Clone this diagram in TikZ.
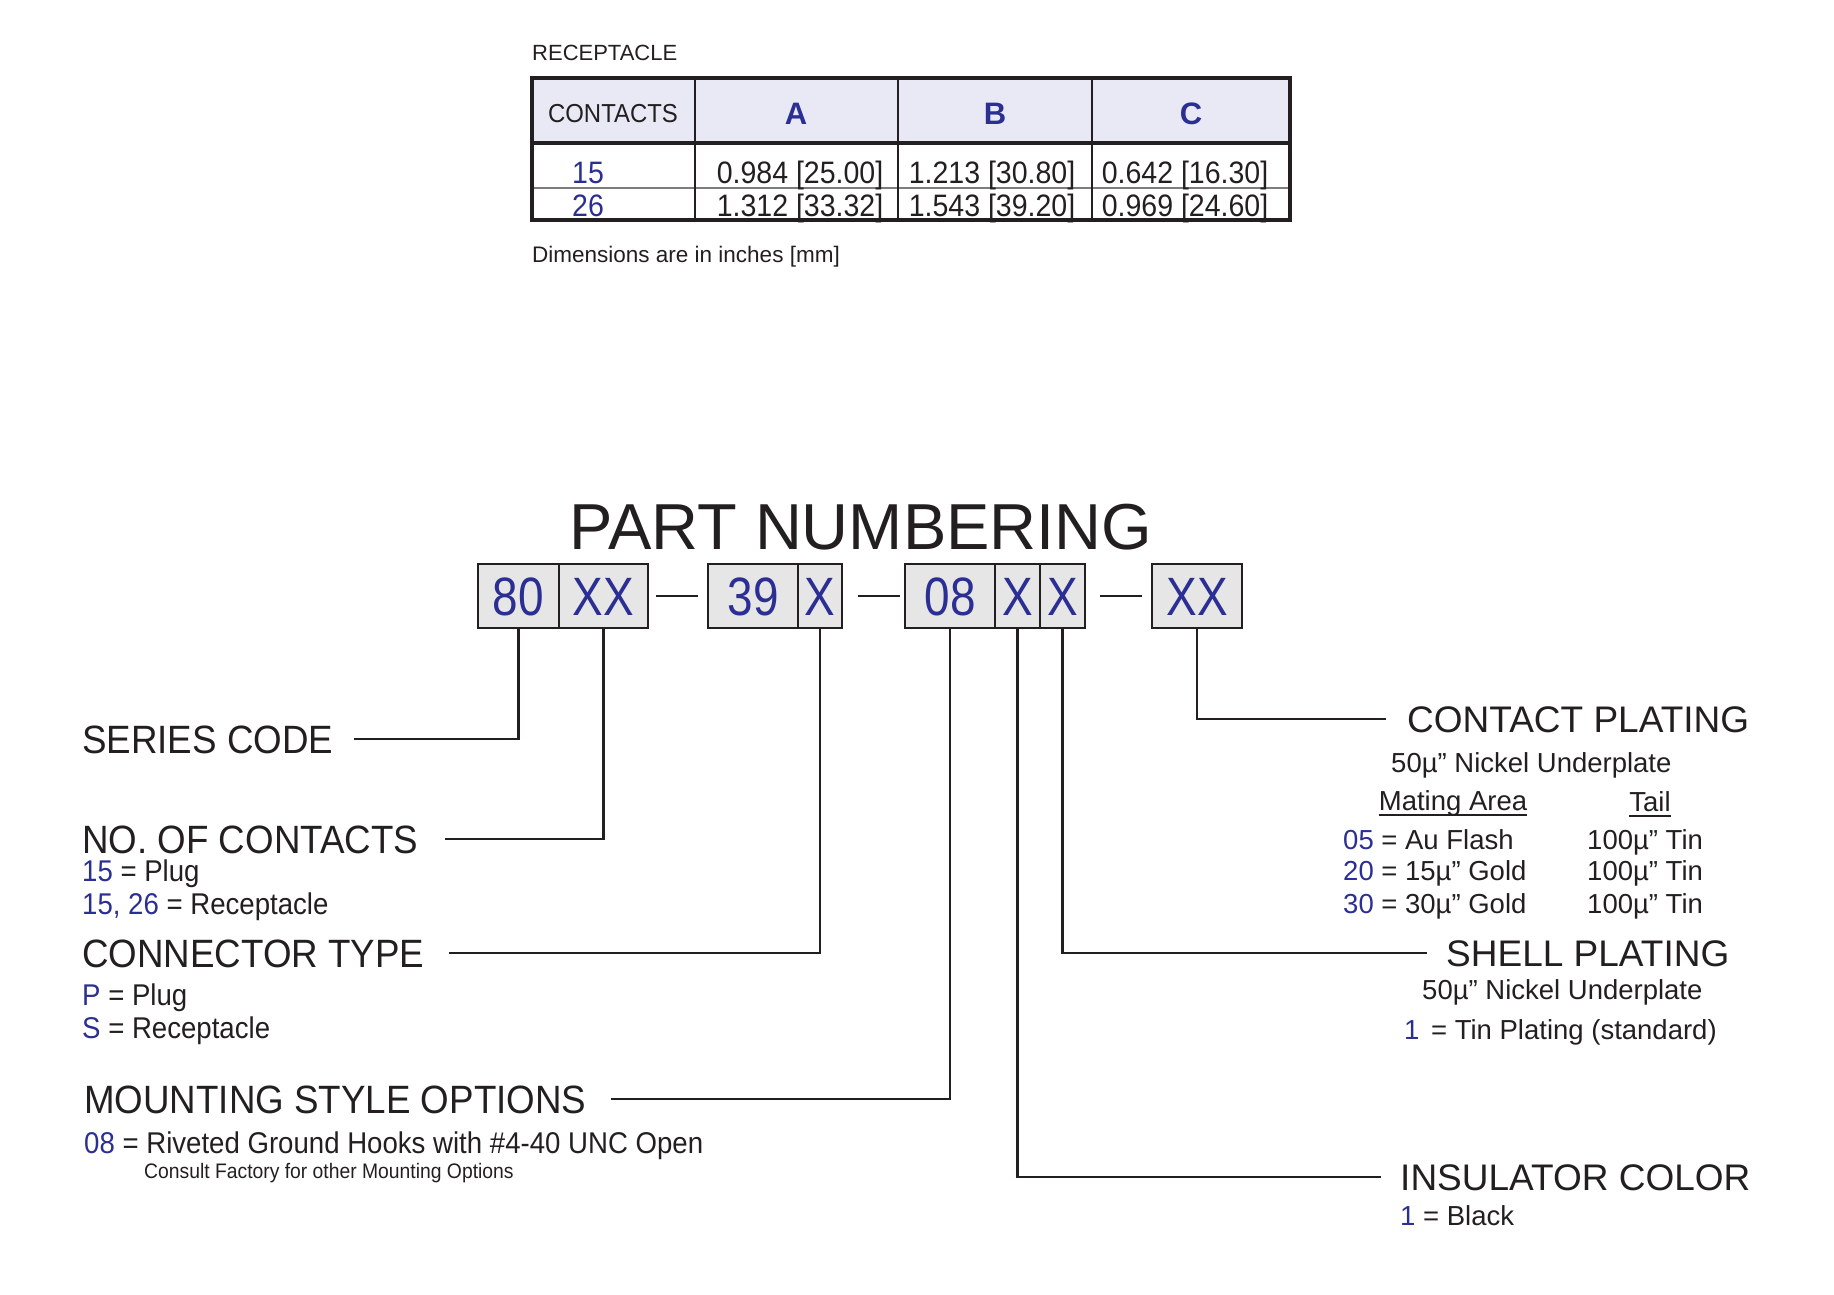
\documentclass[tikz,border=0pt]{standalone}
\usepackage{fontspec}
\setmainfont{Liberation Sans}
\newfontfamily\narrowfont[FakeStretch=0.92]{Liberation Sans}
\newfontfamily\headfont[FakeStretch=0.93]{Liberation Sans}
\newfontfamily\boxfont[FakeStretch=0.85]{Liberation Sans}
\usetikzlibrary{positioning}

\definecolor{pnblue}{RGB}{43,46,146}
\definecolor{ink}{RGB}{35,31,32}
\definecolor{boxgray}{RGB}{230,230,231}
\definecolor{headfill}{RGB}{233,233,246}
\definecolor{rulegray}{RGB}{125,125,125}

\newcommand{\pnum}[1]{\textcolor{pnblue}{#1}}

\tikzset{
  pnbox/.style={draw=ink, line width=2.8pt, fill=boxgray, text=pnblue, outer sep=0pt, inner sep=0pt,
    minimum height=64pt, text height=38.9pt, text depth=0pt, font=\boxfont\fontsize{54}{56}\selectfont},
  pnline/.style={draw=ink, line width=2.8pt},
  lhead/.style={anchor=west, inner sep=0pt, text=ink, text height=28.4pt, text depth=0pt,
    font=\headfont\fontsize{39.5}{42}\selectfont},
  ltext/.style={lhead, text height=21.6pt, font=\narrowfont\fontsize{30}{32}\selectfont},
  rhead/.style={lhead, text height=26.6pt, font=\fontsize{37}{40}\selectfont},
  rtext/.style={lhead, text height=19.8pt, font=\fontsize{27.5}{30}\selectfont},
  cell/.style={inner sep=0pt, text=ink, text height=22.3pt, text depth=0pt,
    font=\narrowfont\fontsize{31}{33}\selectfont},
}

\begin{document}
\begin{tikzpicture}[x=1pt, y=-1pt]
  \useasboundingbox (0,0) rectangle (1834,1294);

  % receptacle table
  \node[lhead, text height=15.8pt, font=\fontsize{22}{24}\selectfont] (rcpt) at (532,53) {RECEPTACLE};
  \fill[headfill] (532,78) rectangle (1290,143);
  \draw[rulegray, line width=1.2pt] (532,188) -- (1290,188);
  \draw[ink, line width=2.6pt] (695,78) -- (695,220) (898,78) -- (898,220) (1092,78) -- (1092,220);
  \draw[ink, line width=4.5pt] (532,143) -- (1290,143);
  \draw[ink, line width=4.5pt] (532,78) rectangle (1290,220);
  \node[cell, text height=18.7pt, font=\narrowfont\fontsize{26}{28}\selectfont] (hcont) at (613,113) {CONTACTS};
  \foreach \col/\x in {A/796, B/995, C/1191}
    \node[cell, text=pnblue, font=\bfseries\fontsize{31}{33}\selectfont] (h\col) at (\x,113) {\col};
  \foreach \n/\y/\va/\vb/\vc in {15/172/{0.984 [25.00]}/{1.213 [30.80]}/{0.642 [16.30]},
                                 26/205/{1.312 [33.32]}/{1.543 [39.20]}/{0.969 [24.60]}} {
    \node[cell, text=pnblue] (c\n) at (588,\y) {\n};
    \node[cell] (a\n) at (800,\y) {\va};
    \node[cell] (b\n) at (992,\y) {\vb};
    \node[cell] (k\n) at (1185,\y) {\vc};
  }
  \node[lhead, text height=16.2pt, font=\fontsize{22.5}{24}\selectfont] (dims) at (532,254) {Dimensions are in inches [mm]};

  % part number
  \node[cell, text height=46.8pt, font=\fontsize{65}{67}\selectfont] (title) at (861,526) {PART NUMBERING};
  \node[pnbox, minimum width=81pt] (b80) at (518.5,596) {80};
  \node[pnbox, minimum width=89pt, right=0pt of b80] (bnc) {XX};
  \node[pnbox, minimum width=90pt] (b39) at (753,596) {39};
  \node[pnbox, minimum width=44pt, right=0pt of b39] (bct) {X};
  \node[pnbox, minimum width=90pt] (b08) at (950,596) {08};
  \node[pnbox, minimum width=45pt, right=0pt of b08] (bic) {X};
  \node[pnbox, minimum width=45pt, right=0pt of bic] (bsp) {X};
  \node[pnbox, minimum width=90pt] (bcp) at (1197,596) {XX};
  \draw[pnline, shorten <=8pt, shorten >=10pt] (bnc) -- (b39);
  \draw[pnline, shorten <=16pt, shorten >=5pt] (bct) -- (b08);
  \draw[pnline, shorten <=15pt, shorten >=10pt] (bsp) -- (bcp);

  % left side
  \node[lhead] (series) at (82,739) {SERIES CODE};
  \node[lhead] (contacts) at (82,839) {NO. OF CONTACTS};
  \node[ltext] (plug15) at (82,871) {\pnum{15} = Plug};
  \node[ltext] (rec15) at (82,904) {\pnum{15, 26} = Receptacle};
  \node[lhead] (ctype) at (82,953) {CONNECTOR TYPE};
  \node[ltext] (ptype) at (82,995) {\pnum{P} = Plug};
  \node[ltext] (stype) at (82,1028) {\pnum{S} = Receptacle};
  \node[lhead] (mount) at (84,1099) {MOUNTING STYLE OPTIONS};
  \node[ltext] (hooks) at (84,1143) {\pnum{08} = Riveted Ground Hooks with \#4-40 UNC Open};
  \node[ltext, text height=15.1pt, font=\narrowfont\fontsize{21}{23}\selectfont] (consult) at (144,1171) {Consult Factory for other Mounting Options};

  % right side
  \node[rhead] (cplate) at (1407,719) {CONTACT PLATING};
  \node[rtext] (cnickel) at (1391,763) {50µ” Nickel Underplate};
  \node[rtext, anchor=center] (mating) at (1453,801) {Mating Area};
  \node[rtext, anchor=center] (tail) at (1650,802) {Tail};
  \draw[ink, line width=1.5pt] ([yshift=-4pt]mating.south west) -- ([yshift=-4pt]mating.south east);
  \draw[ink, line width=1.5pt] ([yshift=-4pt]tail.south west) -- ([yshift=-4pt]tail.south east);
  \foreach \code/\mat/\y in {05/Au Flash/840, 20/15µ” Gold/871, 30/30µ” Gold/904} {
    \node[rtext] (m\code) at (1343,\y) {\pnum{\code} = \mat};
    \node[rtext] (t\code) at (1587,\y) {100µ” Tin};
  }
  \node[rhead] (splate) at (1446,953) {SHELL PLATING};
  \node[rtext] (snickel) at (1422,990) {50µ” Nickel Underplate};
  \node[rtext] (tinplate) at (1404,1030) {\pnum{1}\hspace{4pt} = Tin Plating (standard)};
  \node[rhead] (icolor) at (1400,1177) {INSULATOR COLOR};
  \node[rtext] (black) at (1400,1216) {\pnum{1} = Black};

  % leaders
  \draw[pnline] (b80.south) |- ([xshift=21pt]series.east);
  \draw[pnline] (bnc.south) |- ([xshift=27pt]contacts.east);
  \draw[pnline] (bct.south) |- ([xshift=24pt]ctype.east);
  \draw[pnline] (b08.south) |- ([xshift=24pt]mount.east);
  \draw[pnline] (bcp.south) |- ([xshift=-21pt]cplate.west);
  \draw[pnline] (bsp.south) |- ([xshift=-19pt]splate.west);
  \draw[pnline] (bic.south) |- ([xshift=-19pt]icolor.west);
\end{tikzpicture}
\end{document}
